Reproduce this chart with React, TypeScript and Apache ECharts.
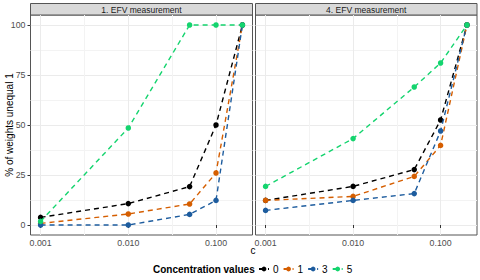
import React, { useEffect, useRef } from "react";
import * as echarts from "echarts";

// ---- data ----
const C_VALUES = [0.001, 0.01, 0.05, 0.1, 0.2];
const PANELS = ["1. EFV measurement", "4. EFV measurement"];
const GROUPS = ["0", "1", "3", "5"];
const X_MAJOR_LABELS = [0.001, 0.01, 0.1];
const X_MINOR = [0.00316, 0.0316, 0.316];
const Y_MAJOR = [0, 25, 50, 75, 100];
const Y_MINOR = [12.5, 37.5, 62.5, 87.5];

const P1_G0 = [3.8, 10.7, 19.2, 50, 100];
const P1_G1 = [0.8, 5.5, 10.5, 26, 100];
const P1_G3 = [0, 0, 5.3, 12.3, 100];
const P1_G5 = [1.8, 48.5, 100, 100, 100];

const P2_G0 = [12.3, 19.3, 27.7, 52.5, 100];
const P2_G1 = [12.3, 14.3, 24.3, 39.8, 100];
const P2_G3 = [7.3, 12.3, 15.7, 47, 100];
const P2_G5 = [19.3, 43.2, 69, 81, 100];

const PANEL_DATA = [
  [P1_G0, P1_G1, P1_G3, P1_G5],
  [P2_G0, P2_G1, P2_G3, P2_G5],
];

// ---- styles ----
const COLORS = ["#000000", "#D55E00", "#1D5C9E", "#14D46E"];
const FONT = "Liberation Sans, Arial, Helvetica, sans-serif";
const GRIDS = [
  { left: 30.5, width: 222 },
  { left: 255.5, width: 221.5 },
];
const GRID_TOP = 15;
const GRID_H = 220;

export default function App() {
  const ref = useRef<HTMLDivElement>(null);
  useEffect(() => {
    document.body.style.margin = "0";
    if (!ref.current) return;
    const chart = echarts.init(ref.current, null, { renderer: "svg" });

    const lx = C_VALUES.map((c) => Math.log10(c));
    const lmin = Math.min(...lx);
    const lmax = Math.max(...lx);
    const range = lmax - lmin;
    const XMIN = lmin - 0.05 * range;
    const XMAX = lmax + 0.05 * range;
    const YMIN = -5;
    const YMAX = 105;
    const xMaj = X_MAJOR_LABELS.map((v) => Math.log10(v));
    const xMin = X_MINOR.map((v) => Math.log10(v)).map((v) => Math.round(v * 2) / 2);

    const grid: any[] = [];
    const xAxis: any[] = [];
    const yAxis: any[] = [];
    const series: any[] = [];
    const graphic: any[] = [];

    GRIDS.forEach((g, i) => {
      grid.push({
        left: g.left,
        top: GRID_TOP,
        width: g.width,
        height: GRID_H,
        show: true,
        borderColor: "#555555",
        borderWidth: 1,
        backgroundColor: "transparent",
      });
      xAxis.push({
        type: "value",
        gridIndex: i,
        min: XMIN,
        max: XMAX,
        position: "bottom",
        axisLine: { show: false },
        axisTick: { show: true, customValues: xMaj, length: 3, lineStyle: { color: "#333333" } },
        axisLabel: {
          customValues: xMaj,
          formatter: (v: number) => Math.pow(10, v).toFixed(3),
          fontSize: 8.8,
          color: "#4D4D4D",
          margin: 3,
          fontFamily: FONT,
        },
        splitLine: { show: true, lineStyle: { color: "#EBEBEB", width: 1 } },
      });
      xAxis.push({
        type: "value",
        gridIndex: i,
        min: XMIN,
        max: XMAX,
        position: "bottom",
        axisLine: { show: false },
        axisTick: { show: false, customValues: xMin },
        axisLabel: { show: false, customValues: xMin },
        splitLine: { show: true, lineStyle: { color: "#F3F3F3", width: 1 } },
      });
      yAxis.push({
        type: "value",
        gridIndex: i,
        min: YMIN,
        max: YMAX,
        axisLine: { show: false },
        axisTick: { show: i === 0, customValues: Y_MAJOR, length: 3, lineStyle: { color: "#333333" } },
        axisLabel: {
          show: i === 0,
          customValues: Y_MAJOR,
          fontSize: 8.8,
          color: "#4D4D4D",
          margin: 5,
          fontFamily: FONT,
        },
        splitLine: { show: true, lineStyle: { color: "#EBEBEB", width: 1 } },
      });
      yAxis.push({
        type: "value",
        gridIndex: i,
        min: YMIN,
        max: YMAX,
        position: "left",
        axisLine: { show: false },
        axisTick: { show: false, customValues: Y_MINOR },
        axisLabel: { show: false, customValues: Y_MINOR },
        splitLine: { show: true, lineStyle: { color: "#F3F3F3", width: 1 } },
      });

      PANEL_DATA[i].forEach((vals, k) => {
        series.push({
          type: "line",
          name: GROUPS[k],
          xAxisIndex: 2 * i,
          yAxisIndex: 2 * i,
          data: C_VALUES.map((c, j) => [Math.log10(c), vals[j]]),
          symbol: "circle",
          symbolSize: 5.5,
          showSymbol: true,
          lineStyle: { type: [5, 4], width: 1.4, color: COLORS[k] },
          itemStyle: { color: COLORS[k] },
          emphasis: { disabled: true },
          z: 3 + k,
        });
      });

      graphic.push({
        type: "rect",
        shape: { x: g.left, y: 3.5, width: g.width, height: GRID_TOP - 3.5 },
        style: { fill: "#D9D9D9", stroke: "#555555", lineWidth: 1 },
      });
      graphic.push({
        type: "text",
        x: g.left + g.width / 2,
        y: (3.5 + GRID_TOP) / 2 + 0.5,
        style: {
          text: PANELS[i],
          fill: "#1A1A1A",
          fontSize: 8.5,
          fontFamily: FONT,
          textAlign: "center",
          textVerticalAlign: "middle",
        },
      });
    });

    graphic.push({
      type: "text",
      x: 9,
      y: GRID_TOP + GRID_H / 2,
      rotation: Math.PI / 2,
      style: {
        text: "% of weights unequal 1",
        fill: "#000000",
        fontSize: 10,
        fontFamily: FONT,
        textAlign: "center",
        textVerticalAlign: "middle",
      },
    });
    graphic.push({
      type: "text",
      x: 253,
      y: 250,
      style: {
        text: "c",
        fill: "#000000",
        fontSize: 10,
        fontFamily: FONT,
        textAlign: "center",
        textVerticalAlign: "middle",
      },
    });
    graphic.push({
      type: "text",
      x: 153,
      y: 269,
      style: {
        text: "Concentration values",
        fill: "#000000",
        fontSize: 10,
        fontWeight: "bold",
        fontFamily: FONT,
        textAlign: "left",
        textVerticalAlign: "middle",
      },
    });

    chart.setOption({
      animation: false,
      grid,
      xAxis,
      yAxis,
      series,
      graphic,
      legend: {
        data: GROUPS,
        orient: "horizontal",
        left: 258,
        top: 264,
        itemWidth: 10,
        itemHeight: 6,
        itemGap: 4,
        selectedMode: false,
        textStyle: { fontSize: 10, color: "#000000", fontFamily: FONT, padding: [0, 0, 0, -1] },
        padding: 0,
      },
    });
    return () => chart.dispose();
  }, []);
  return <div ref={ref} style={{ width: 480, height: 280, position: "absolute", left: 0, top: 0 }} />;
}
